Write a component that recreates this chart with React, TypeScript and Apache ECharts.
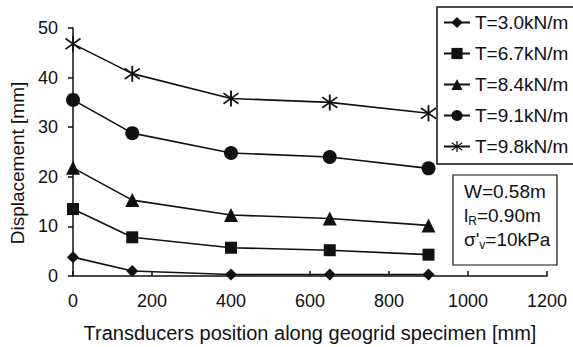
import React, { useEffect, useRef } from "react";
import * as echarts from "echarts";

// Transducer positions along the specimen [mm]
const positions = [0, 150, 400, 650, 900];

// Displacements [mm] for each tensile load level
const t30 = [3.8, 1.0, 0.3, 0.3, 0.3];
const t67 = [13.5, 7.8, 5.7, 5.2, 4.3];
const t84 = [21.8, 15.3, 12.3, 11.6, 10.2];
const t91 = [35.5, 28.8, 24.8, 24.0, 21.7];
const t98 = [46.8, 40.8, 35.8, 35.0, 32.8];

const seriesNames = ["T=3.0kN/m", "T=6.7kN/m", "T=8.4kN/m", "T=9.1kN/m", "T=9.8kN/m"];
const seriesData = [t30, t67, t84, t91, t98];

const xTicks = [0, 200, 400, 600, 800, 1000, 1200];
const yTicks = [0, 10, 20, 30, 40, 50];

// asterisk-like marker built from three thin bars
const asterisk =
  "path://M9,0 L11,0 L11,20 L9,20 Z M1.5,4.2 L2.5,2.5 L18.5,15.8 L17.5,17.5 Z M17.5,2.5 L18.5,4.2 L2.5,17.5 L1.5,15.8 Z";

const symbols = ["diamond", "rect", "triangle", "circle", asterisk];
const symbolSizes = [12, 12, 14, 14, 16];

const FONT = "'Liberation Sans', Arial, sans-serif";
const INK = "#111";

export default function App() {
  const ref = useRef<HTMLDivElement>(null);

  useEffect(() => {
    if (!ref.current) return;
    const chart = echarts.init(ref.current, undefined, { renderer: "svg" });

    const series = seriesData.map((vals, i) => ({
      name: seriesNames[i],
      type: "line",
      data: vals.map((v, j) => [positions[j], v]),
      symbol: symbols[i],
      symbolSize: symbolSizes[i],
      showAllSymbol: true,
      lineStyle: { color: INK, width: 1.6 },
      itemStyle: { color: INK, borderWidth: 0 },
      emphasis: { disabled: true },
      z: 3,
    }));

    chart.setOption({
      animation: false,
      backgroundColor: "#fff",
      textStyle: { fontFamily: FONT, color: INK },
      grid: { left: 73, right: 26, top: 28, bottom: 71, outerBoundsMode: "none", containLabel: false },
      xAxis: {
        type: "value",
        min: xTicks[0],
        max: xTicks[xTicks.length - 1],
        interval: 200,
        name: "Transducers position along geogrid specimen [mm]",
        nameLocation: "middle",
        nameGap: 47,
        nameTextStyle: { fontSize: 20, color: INK, fontFamily: FONT },
        axisLine: { lineStyle: { color: INK, width: 1.5 } },
        axisTick: { inside: true, length: 5, lineStyle: { color: INK, width: 1.5 } },
        axisLabel: {
          fontSize: 18,
          color: INK,
          margin: 16,
          fontFamily: FONT,
          formatter: (v: number) => String(v),
        },
        splitLine: { show: false },
      },
      yAxis: {
        type: "value",
        min: yTicks[0],
        max: yTicks[yTicks.length - 1],
        interval: 10,
        axisLine: { show: true, lineStyle: { color: INK, width: 1.5 } },
        axisTick: { show: true, length: 5, lineStyle: { color: INK, width: 1.5 } },
        axisLabel: { fontSize: 18, color: INK, margin: 15, fontFamily: FONT },
        splitLine: { show: false },
      },
      legend: {
        orient: "vertical",
        left: 437,
        top: 7,
        padding: [6, 6, 8, 6],
        itemGap: 12,
        itemWidth: 26,
        itemHeight: 14,
        borderColor: INK,
        borderWidth: 1.5,
        textStyle: { fontSize: 19, color: INK, fontFamily: FONT },
        data: seriesNames,
      },
      graphic: [
        {
          type: "text",
          x: 17,
          y: 163,
          rotation: Math.PI / 2,
          style: {
            text: "Displacement [mm]",
            fontSize: 19,
            fill: INK,
            fontFamily: FONT,
            align: "center",
            verticalAlign: "middle",
          },
        },
        {
          type: "rect",
          shape: { x: 453, y: 175, width: 104, height: 90 },
          style: { fill: "#fff", stroke: INK, lineWidth: 1.2 },
          z: 10,
        },
        {
          type: "text",
          x: 464,
          y: 179,
          z: 11,
          style: {
            text: "W=0.58m\n{b|l}{s|R}=0.90m\n{b|σ'}{s|v}=10kPa",
            fontSize: 19,
            lineHeight: 24,
            fill: INK,
            fontFamily: FONT,
            rich: {
              b: { fontSize: 19, fill: INK, fontFamily: FONT },
              s: { fontSize: 12, fill: INK, fontFamily: FONT, verticalAlign: "bottom", padding: [8, 0, 0, 0] },
            },
          },
        },
      ],
      series,
    });

    return () => chart.dispose();
  }, []);

  return (
    <div
      ref={ref}
      style={{ position: "fixed", left: 0, top: 0, width: 573, height: 347 }}
    />
  );
}
